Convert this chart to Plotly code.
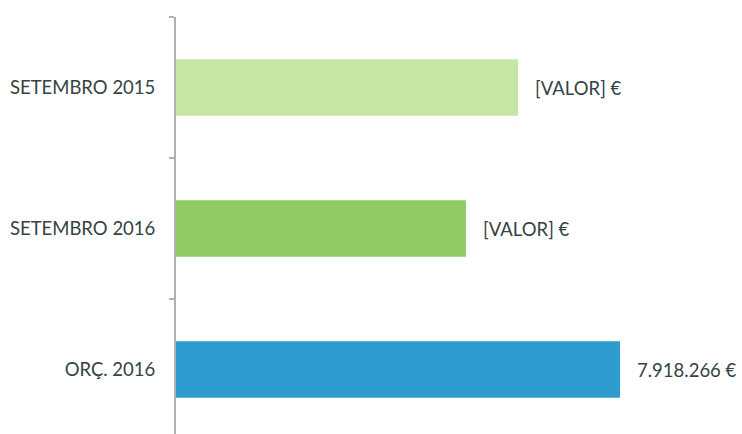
import plotly.graph_objects as go

# Categories (top to bottom) and amounts in euros
categories = ["SETEMBRO 2015", "SETEMBRO 2016", "ORÇ. 2016"]
values = [6100000, 5170000, 7918266]
labels = ["[VALOR] €", "[VALOR] €", None]
colors = ["#c6e6a6", "#8fcb63", "#2d9bce"]


def fmt_eur(v):
    return f"{v:,.0f}".replace(",", ".") + " €"


labels = [lab if lab is not None else fmt_eur(v) for lab, v in zip(labels, values)]

font_family = "Lato, 'Open Sans', sans-serif"
text_color = "#34443f"

fig = go.Figure(
    go.Bar(
        x=values,
        y=categories,
        orientation="h",
        marker=dict(color=colors, line=dict(width=0)),
        width=0.4,
        hoverinfo="skip",
    )
)

for cat, v, lab in zip(categories, values, labels):
    fig.add_annotation(
        x=v, y=cat, text=lab, showarrow=False,
        xanchor="left", yanchor="middle", xshift=15,
        font=dict(family=font_family, size=18.5, color=text_color),
    )

fig.update_layout(
    width=742, height=434,
    margin=dict(l=176, r=0, t=17, b=0),
    paper_bgcolor="white", plot_bgcolor="white",
    showlegend=False,
    bargap=0.6,
)
fig.update_xaxes(
    range=[0, 566 * 7918266 / 444],
    visible=False,
)
fig.update_yaxes(
    type="category",
    categoryorder="array", categoryarray=categories,
    range=[2.457, -0.5],
    showgrid=False,
    showline=True, linecolor="#b0b0b0", linewidth=2,
    ticks="outside", tickson="boundaries", ticklen=5, tickcolor="#b0b0b0", tickwidth=2,
    ticklabelstandoff=15,
    tickfont=dict(family=font_family, size=18.5, color=text_color),
)

fig.write_html("out.html")
